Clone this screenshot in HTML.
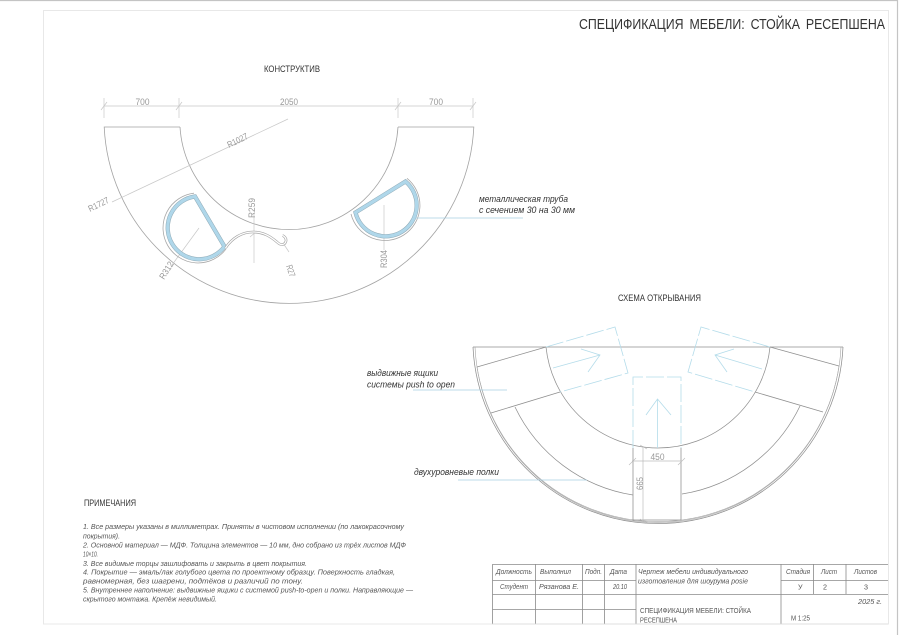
<!DOCTYPE html>
<html lang="ru"><head><meta charset="utf-8"><title>Спецификация мебели</title>
<style>
html,body{margin:0;padding:0;background:#fff;width:900px;height:635px;overflow:hidden}
svg{display:block}
text{font-family:"Liberation Sans","DejaVu Sans",sans-serif;fill:#333}
.d{fill:#999;font-size:9px}
.n{font-size:7.2px;fill:#555;font-style:italic}
.t{font-size:7.2px;fill:#555;font-style:italic}
.h{font-size:9.5px;fill:#333}
.l{font-size:9px;fill:#333;font-style:italic}
</style></head><body>
<svg width="900" height="635" viewBox="0 0 900 635" xmlns="http://www.w3.org/2000/svg" fill="none">
<!-- sheet frame -->
<path d="M0 .5H897.5V635" stroke="#c4c4c4" stroke-width="1.2"/>
<rect x="43.5" y="10.5" width="845" height="613.5" stroke="#e8e8e8"/>
<text x="579" y="29" font-size="15" textLength="306" lengthAdjust="spacingAndGlyphs" fill="#222" word-spacing="3">СПЕЦИФИКАЦИЯ МЕБЕЛИ: СТОЙКА РЕСЕПШЕНА</text>
<text class="h" x="264" y="72" textLength="56" lengthAdjust="spacingAndGlyphs">КОНСТРУКТИВ</text>
<text class="h" x="618" y="301" textLength="83" lengthAdjust="spacingAndGlyphs">СХЕМА ОТКРЫВАНИЯ</text>

<!-- top drawing -->
<g stroke="#a3a3a3" stroke-width=".8">
<path d="M180 127H104.200A185 185 0 0 0 473.800 127H398"/>
<path d="M180 127A109.200 109.200 0 0 0 398 127"/>
</g>
<g stroke="#c8c8c8" stroke-width=".7">
<path d="M104 106H473M104 98V118M179 98V118M398 98V118M473 98V118"/>
<path d="M101 110L107 102M176 110L182 102M395 110L401 102M470 110L476 102"/>
<path d="M288 119L112 202"/>
<path d="M254 213V263M250 237L257 231"/>
<path d="M199 228L172 265"/>
<path d="M283 243L289 252"/>
<path d="M384 205V250"/>
</g>
<text class="d" x="135.500" y="105" textLength="14" lengthAdjust="spacingAndGlyphs">700</text>
<text class="d" x="280" y="105" textLength="18" lengthAdjust="spacingAndGlyphs">2050</text>
<text class="d" x="429" y="105" textLength="14" lengthAdjust="spacingAndGlyphs">700</text>
<text class="d" transform="translate(229 148) rotate(-26)" textLength="22" lengthAdjust="spacingAndGlyphs">R1027</text>
<text class="d" transform="translate(90 212) rotate(-26)" textLength="22" lengthAdjust="spacingAndGlyphs">R1727</text>
<text class="d" transform="translate(255 218) rotate(-90)" textLength="20" lengthAdjust="spacingAndGlyphs">R259</text>
<text class="d" transform="translate(164 280) rotate(-58)" textLength="19" lengthAdjust="spacingAndGlyphs">R312</text>
<text class="d" transform="translate(286 266) rotate(72)" textLength="12" lengthAdjust="spacingAndGlyphs">R27</text>
<text class="d" transform="translate(387 268) rotate(-90)" textLength="18" lengthAdjust="spacingAndGlyphs">R304</text>

<!-- left pocket -->
<path d="M194 193.200A35 35 0 1 0 226 249" stroke="#a8a8a8" stroke-width=".8"/>
<path d="M195 196.500A31.500 31.500 0 1 0 224.500 246.500Z" stroke="#8fa9b5" stroke-width="4.200" stroke-linejoin="miter"/>
<path d="M195 196.500A31.500 31.500 0 1 0 224.500 246.500Z" stroke="#afd7ea" stroke-width="3.200"/>
<path d="M225.500 248C232 238 242 232 253 232C264 232 271 237 277 242C281 246 285 245 286 241C286.500 238 284 236 282.500 235.500" stroke="#a5a5a5" stroke-width="2.600"/>
<path d="M225.500 248C232 238 242 232 253 232C264 232 271 237 277 242C281 246 285 245 286 241C286.500 238 284 236 282.500 235.500" stroke="#fff" stroke-width="1.300"/>

<!-- right pocket -->
<path d="M407 178.300A35 35 0 1 1 351 214" stroke="#a8a8a8" stroke-width=".8"/>
<path d="M405.500 181.500A31 31 0 1 1 355.500 212.500Z" stroke="#8fa9b5" stroke-width="4.200"/>
<path d="M405.500 181.500A31 31 0 1 1 355.500 212.500Z" stroke="#afd7ea" stroke-width="3.200"/>
<path d="M415 218H523" stroke="#a9cfe2" stroke-width=".8"/>
<text class="l" x="479" y="202" textLength="89" lengthAdjust="spacingAndGlyphs">металлическая труба</text>
<text class="l" x="479" y="213" textLength="96" lengthAdjust="spacingAndGlyphs">с сечением 30 на 30 мм</text>

<!-- lower drawing -->
<g stroke="#8f8f8f" stroke-width=".75">
<path d="M473 347H843"/>
<path d="M473 347A185.200 185.200 0 0 0 843 347"/>
<path d="M475 347A183.200 183.200 0 0 0 841 347" stroke="#a5a5a5" stroke-width=".6"/>
<path d="M477 367A183 183 0 0 0 839 366" stroke="#a5a5a5" stroke-width=".6"/>
<path d="M546 347A112.600 112.600 0 0 0 770 347"/>
<path d="M515 407A158.500 158.500 0 0 0 633 495M682 494A158.500 158.500 0 0 0 800 406"/>
<path d="M546 347L477 367M560 392L491 413M770 347L839 366M755 392L823 412"/>
<path d="M633 448V520H681V448"/>
</g>
<g stroke="#b4dcea" stroke-width=".8">
<path d="M546 347L615 327L628 373L560 392M770 347L701 327L688 372L755 392M633 448V377H681V448" stroke-dasharray="18 3"/>
<path d="M553 368L600 355M581 349L600 355L588 372"/>
<path d="M762 369L715 355M734 349L715 355L727 372"/>
<path d="M657.500 448V399M646 415L657.500 399L671 415"/>
<path d="M413 390H507M458 480H587" stroke="#a9cfe2"/>
</g>
<g stroke="#bdbdbd" stroke-width=".7">
<path d="M632 461H682M629 465L636 458M678 465L685 458"/>
<path d="M643 446V522M640 445L647 449M640 519L647 523"/>
</g>
<text class="d" x="650.500" y="460" textLength="14" lengthAdjust="spacingAndGlyphs">450</text>
<text class="d" transform="translate(643 490) rotate(-90)" textLength="13" lengthAdjust="spacingAndGlyphs">665</text>
<text class="l" x="367" y="376" textLength="71" lengthAdjust="spacingAndGlyphs">выдвижные ящики</text>
<text class="l" x="367" y="387.500" textLength="88" lengthAdjust="spacingAndGlyphs">системы push to open</text>
<text class="l" x="414" y="475" textLength="85" lengthAdjust="spacingAndGlyphs">двухуровневые полки</text>

<!-- notes -->
<text class="h" x="84" y="506" textLength="52" lengthAdjust="spacingAndGlyphs">ПРИМЕЧАНИЯ</text>
<text class="n" x="83" y="529" textLength="321" lengthAdjust="spacingAndGlyphs">1. Все размеры указаны в миллиметрах. Приняты в чистовом исполнении (по лакокрасочному</text>
<text class="n" x="83" y="538.500" textLength="37" lengthAdjust="spacingAndGlyphs">покрытия).</text>
<text class="n" x="83" y="547.500" textLength="323" lengthAdjust="spacingAndGlyphs">2. Основной материал — МДФ. Толщина элементов — 10 мм, дно собрано из трёх листов МДФ</text>
<text class="n" x="83" y="556.500" textLength="15" lengthAdjust="spacingAndGlyphs">10×10.</text>
<text class="n" x="83" y="566" textLength="224" lengthAdjust="spacingAndGlyphs">3. Все видимые торцы зашлифовать и закрыть в цвет покрытия.</text>
<text class="n" x="83" y="574.500" textLength="312" lengthAdjust="spacingAndGlyphs">4. Покрытие — эмаль/лак голубого цвета по проектному образцу. Поверхность гладкая,</text>
<text class="n" x="83" y="583.500" textLength="220" lengthAdjust="spacingAndGlyphs">равномерная, без шагрени, подтёков и различий по тону.</text>
<text class="n" x="83" y="592.500" textLength="330" lengthAdjust="spacingAndGlyphs">5. Внутреннее наполнение: выдвижные ящики с системой push-to-open и полки. Направляющие —</text>
<text class="n" x="83" y="601.500" textLength="134" lengthAdjust="spacingAndGlyphs">скрытого монтажа. Крепёж невидимый.</text>

<!-- title block -->
<g stroke="#8a8a8a" stroke-width=".8">
<path d="M492.500 624V564.500H888"/>
<path d="M492.500 580.500H636M492.500 594.500H888M492.500 609.500H636M781 580.500H888"/>
<path d="M535.500 564V624M582.500 564V624M604.500 564V624M636 564V624M781 564V624M813.500 564V594M846 564V594"/>
</g>
<path d="M492 624H888" stroke="#ddd" stroke-width=".8"/>
<text class="t" x="496" y="574" textLength="36" lengthAdjust="spacingAndGlyphs">Должность</text>
<text class="t" x="540" y="574" textLength="31" lengthAdjust="spacingAndGlyphs">Выполнил</text>
<text class="t" x="585" y="574" textLength="17" lengthAdjust="spacingAndGlyphs">Подп.</text>
<text class="t" x="610" y="574" textLength="17" lengthAdjust="spacingAndGlyphs">Дата</text>
<text class="t" x="638" y="574" textLength="110" lengthAdjust="spacingAndGlyphs">Чертеж мебели индивидуального</text>
<text class="t" x="638" y="583.500" textLength="110" lengthAdjust="spacingAndGlyphs">изготовления для шоурума posie</text>
<text class="t" x="786" y="574" textLength="24" lengthAdjust="spacingAndGlyphs">Стадия</text>
<text class="t" x="821" y="574" textLength="16" lengthAdjust="spacingAndGlyphs">Лист</text>
<text class="t" x="854" y="574" textLength="23" lengthAdjust="spacingAndGlyphs">Листов</text>
<text class="t" x="500" y="589" textLength="28" lengthAdjust="spacingAndGlyphs">Студент</text>
<text class="t" x="539" y="589" textLength="40" lengthAdjust="spacingAndGlyphs">Рязанова Е.</text>
<text class="t" x="613" y="589" textLength="14" lengthAdjust="spacingAndGlyphs">20.10</text>
<text class="t" x="798" y="589.500" style="font-style:normal">У</text>
<text class="t" x="823" y="589.500" style="font-style:normal">2</text>
<text class="t" x="864" y="589.500" style="font-style:normal">3</text>
<text class="t" x="858" y="604" textLength="24" lengthAdjust="spacingAndGlyphs">2025 г.</text>
<text class="t" x="640" y="613" textLength="111" lengthAdjust="spacingAndGlyphs" style="font-style:normal;font-size:7.500px">СПЕЦИФИКАЦИЯ МЕБЕЛИ: СТОЙКА</text>
<text class="t" x="640" y="622.500" textLength="37" lengthAdjust="spacingAndGlyphs" style="font-style:normal;font-size:7.500px">РЕСЕПШЕНА</text>
<text class="t" x="791" y="620.500" textLength="19" lengthAdjust="spacingAndGlyphs" style="font-style:normal">М 1:25</text>
</svg>
</body></html>
